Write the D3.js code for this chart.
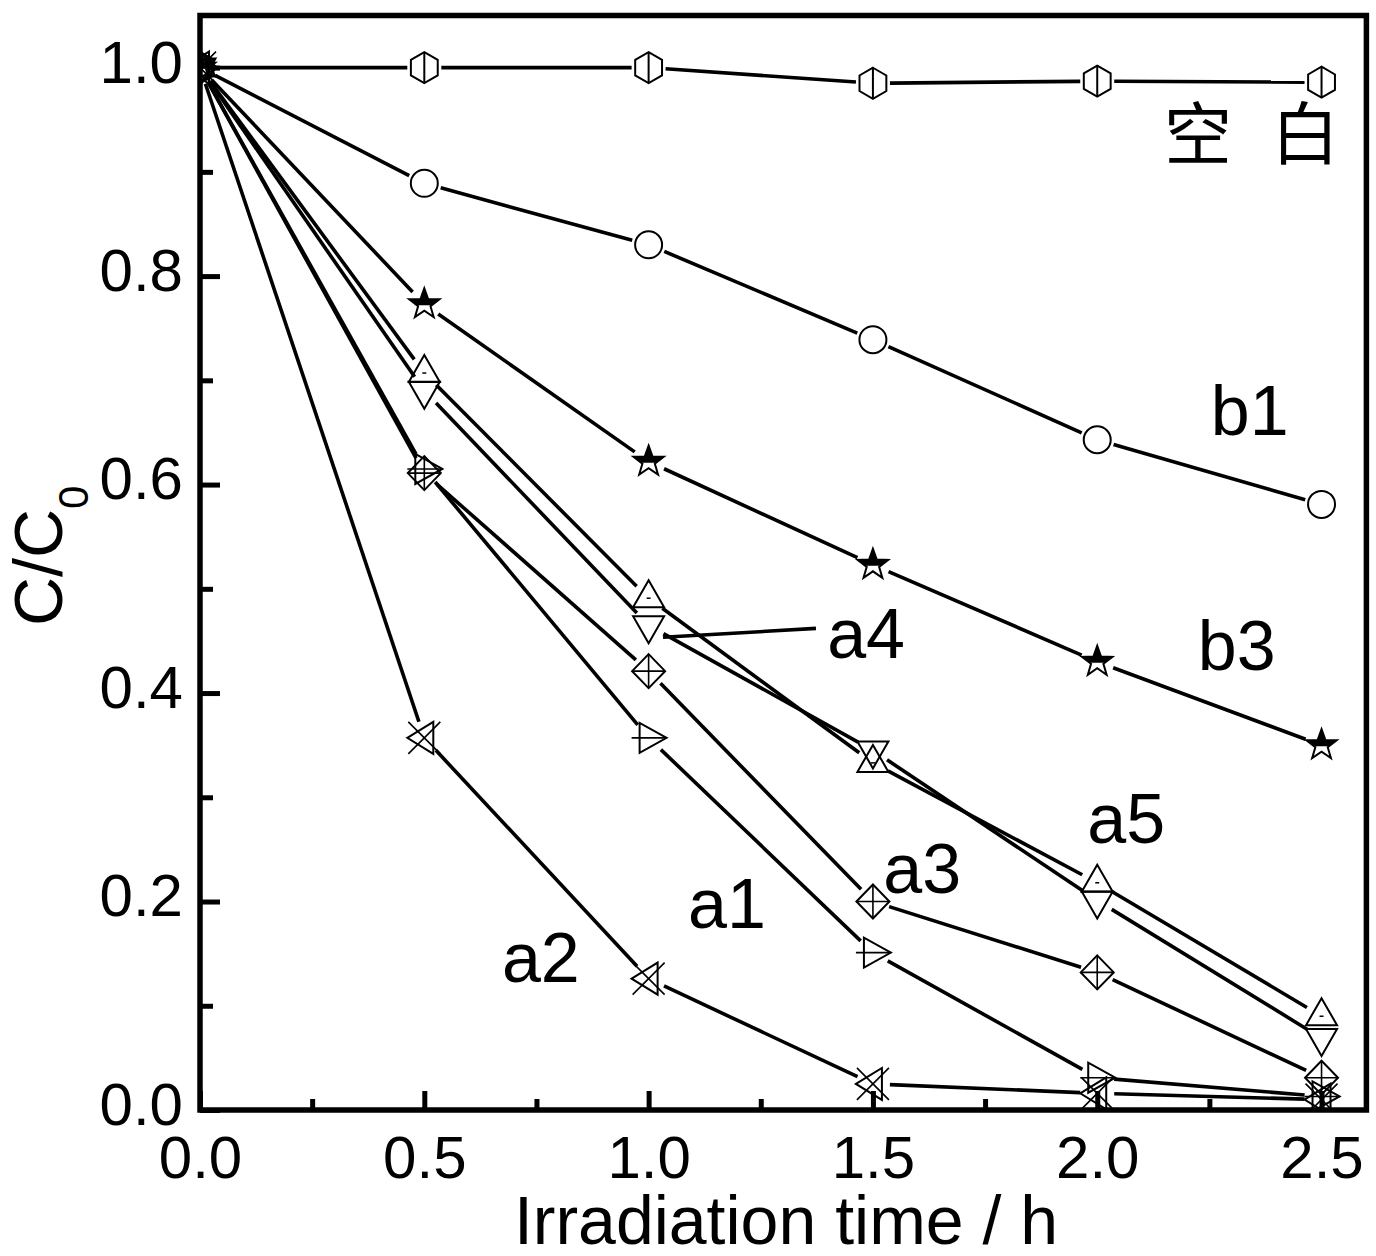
<!DOCTYPE html>
<html>
<head>
<meta charset="utf-8">
<script src="https://cdn.jsdelivr.net/npm/d3@7"></script>
<style>
body { margin: 0; background: #fff; }
text { font-family: "Liberation Sans", Arial, sans-serif; fill: #000; }
</style>
</head>
<body>
<div id="Container"></div>
<script>
// irradiation time (h)
var time = [0, 0.5, 1.0, 1.5, 2.0, 2.5];

// C/C0 for each sample
var blank = [1.0, 1.0, 1.0, 0.985, 0.987, 0.986];
var b1 = [1.0, 0.889, 0.830, 0.739, 0.643, 0.581];
var b3 = [1.0, 0.773, 0.622, 0.523, 0.430, 0.350];
var a5 = [1.0, 0.707, 0.491, 0.333, 0.218, 0.090];
var a4 = [1.0, 0.690, 0.465, 0.345, 0.201, 0.069];
var a3 = [1.0, 0.611, 0.421, 0.200, 0.132, 0.031];
var a1 = [1.0, 0.615, 0.357, 0.151, 0.031, 0.013];
var a2 = [1.0, 0.357, 0.126, 0.025, 0.016, 0.010];

var xTicks = [0, 0.5, 1.0, 1.5, 2.0, 2.5];
var xMinor = [0.25, 0.75, 1.25, 1.75, 2.25];
var yTicks = [0, 0.2, 0.4, 0.6, 0.8, 1.0];
var yMinor = [0.1, 0.3, 0.5, 0.7, 0.9];

// curve labels, placed in data units
var labelText = ['b1', 'b3', 'a5', 'a4', 'a3', 'a1', 'a2'];
var labelT = [2.253, 2.224, 1.978, 1.398, 1.523, 1.088, 0.673];
var labelC = [0.648, 0.422, 0.256, 0.434, 0.208, 0.175, 0.123];
var pointerT = [1.032, 1.373];
var pointerC = [0.4535, 0.462];

var series = [
    { vals: blank, mark: 'hex' },
    { vals: b1, mark: 'circle' },
    { vals: b3, mark: 'star' },
    { vals: a5, mark: 'up' },
    { vals: a4, mark: 'down' },
    { vals: a3, mark: 'diamond' },
    { vals: a1, mark: 'right' },
    { vals: a2, mark: 'leftx' }
];

var margin = { top: 15.5, right: 10, bottom: 146, left: 200 },
    w = 1166.4,
    h = 1094.5,
    canvas = d3.select("#Container").append('svg')
        .attr('width', 1376)
        .attr('height', 1256),
    svg = canvas.append('g')
        .attr('transform', 'translate(' + margin.left + ',' + margin.top + ')');

var x = d3.scaleLinear().domain([0, 2.6]).range([0, w]);
var y = d3.scaleLinear().domain([0, 1.05]).range([h, 0]);

var defs = canvas.append('defs');
defs.append('clipPath').attr('id', 'plotclip')
    .append('rect').attr('x', 0).attr('y', 0).attr('width', w).attr('height', h);
defs.append('clipPath').attr('id', 'tophalf')
    .append('rect').attr('x', -25).attr('y', -25).attr('width', 50).attr('height', 26);

// axes, ticks pointing inward
function styleAxis(g) {
    g.select('.domain').remove();
    g.selectAll('.tick line').attr('stroke', '#000').attr('stroke-width', 5);
}

svg.append('g')
    .attr('transform', 'translate(0,' + h + ')')
    .call(d3.axisBottom(x).tickValues(xTicks).tickSize(-19).tickPadding(25)
        .tickFormat(d3.format('.1f')))
    .call(styleAxis)
    .selectAll('text').attr('font-size', 60).attr('font-family', 'Liberation Sans, Arial');

svg.append('g')
    .attr('transform', 'translate(0,' + h + ')')
    .call(d3.axisBottom(x).tickValues(xMinor).tickSize(-11).tickFormat(''))
    .call(styleAxis);

svg.append('g')
    .call(d3.axisLeft(y).tickValues(yTicks).tickSize(-20).tickPadding(17)
        .tickFormat(d3.format('.1f')))
    .call(styleAxis)
    .selectAll('text').attr('font-size', 60).attr('dy', '0.24em')
    .attr('font-family', 'Liberation Sans, Arial');

svg.append('g')
    .call(d3.axisLeft(y).tickValues(yMinor).tickSize(-13).tickFormat(''))
    .call(styleAxis);

// lines, with a small gap around each marker
var gap = 17;
var lineG = svg.append('g');
series.forEach(function (s) {
    var pts = s.vals.map(function (v, i) { return [x(time[i]), y(v)]; });
    for (var i = 0; i < pts.length - 1; i++) {
        var p = pts[i], q = pts[i + 1];
        var dx = q[0] - p[0], dy = q[1] - p[1];
        var d = Math.sqrt(dx * dx + dy * dy);
        if (d <= 2 * gap) continue;
        var ux = dx / d, uy = dy / d;
        lineG.append('line')
            .attr('x1', p[0] + ux * gap).attr('y1', p[1] + uy * gap)
            .attr('x2', q[0] - ux * gap).attr('y2', q[1] - uy * gap)
            .attr('stroke', '#000').attr('stroke-width', 3.6);
    }
});

// markers
function drawMarker(g, type) {
    var sw = 2;
    if (type == 'hex') {
        var p = d3.range(6).map(function (k) {
            var a = (-90 + 60 * k) * Math.PI / 180;
            return [15.5 * Math.cos(a), 15.5 * Math.sin(a)];
        });
        g.append('polygon').attr('points', p.join(' '))
            .attr('fill', 'none').attr('stroke', '#000').attr('stroke-width', sw);
        g.append('line').attr('x1', 0).attr('y1', -15.5).attr('x2', 0).attr('y2', 15.5)
            .attr('stroke', '#000').attr('stroke-width', sw);
    } else if (type == 'circle') {
        g.append('circle').attr('r', 13.5)
            .attr('fill', 'none').attr('stroke', '#000').attr('stroke-width', sw);
    } else if (type == 'star') {
        var pts = d3.range(10).map(function (k) {
            var a = (-90 + 36 * k) * Math.PI / 180;
            var r = k % 2 == 0 ? 16 : 6.5;
            return [r * Math.cos(a), r * Math.sin(a)];
        });
        var dstr = 'M' + pts.join('L') + 'Z';
        g.append('path').attr('d', dstr).attr('fill', '#fff')
            .attr('stroke', '#000').attr('stroke-width', sw);
        g.append('path').attr('d', dstr).attr('fill', '#000')
            .attr('clip-path', 'url(#tophalf)');
    } else if (type == 'up') {
        g.append('path').attr('d', 'M0,-18L15.5,9L-15.5,9Z')
            .attr('fill', 'none').attr('stroke', '#000').attr('stroke-width', sw);
        g.append('line').attr('x1', -2).attr('y1', 0).attr('x2', 2).attr('y2', 0)
            .attr('stroke', '#000').attr('stroke-width', 1.5);
    } else if (type == 'down') {
        g.append('path').attr('d', 'M0,18L15.5,-9L-15.5,-9Z')
            .attr('fill', 'none').attr('stroke', '#000').attr('stroke-width', sw);
    } else if (type == 'diamond') {
        g.append('path').attr('d', 'M0,-17L16.5,0L0,17L-16.5,0Z')
            .attr('fill', 'none').attr('stroke', '#000').attr('stroke-width', sw);
        g.append('path').attr('d', 'M0,-17L0,17M-16.5,0L16.5,0')
            .attr('fill', 'none').attr('stroke', '#000').attr('stroke-width', 1.6);
    } else if (type == 'right') {
        g.append('path').attr('d', 'M18,0L-9,-15L-9,15Z')
            .attr('fill', 'none').attr('stroke', '#000').attr('stroke-width', sw);
        g.append('line').attr('x1', -17).attr('y1', 0).attr('x2', 18).attr('y2', 0)
            .attr('stroke', '#000').attr('stroke-width', 1.6);
    } else if (type == 'leftx') {
        g.append('path').attr('d', 'M-17,0L9,-16L9,16Z')
            .attr('fill', 'none').attr('stroke', '#000').attr('stroke-width', sw);
        g.append('path').attr('d', 'M-16,-16L16,16M-16,16L16,-16')
            .attr('fill', 'none').attr('stroke', '#000').attr('stroke-width', 1.6);
    }
}

var markG = svg.append('g').attr('clip-path', 'url(#plotclip)');
series.forEach(function (s) {
    markG.selectAll(null)
        .data(s.vals)
        .enter()
        .append('g')
        .attr('transform', function (d, i) { return 'translate(' + x(time[i]) + ',' + y(d) + ')'; })
        .each(function () { drawMarker(d3.select(this), s.mark); });
});

// frame
svg.append('rect')
    .attr('x', 0).attr('y', 0).attr('width', w).attr('height', h)
    .attr('fill', 'none').attr('stroke', '#000').attr('stroke-width', 5.5);

// curve labels
svg.selectAll('.lbl')
    .data(labelText)
    .enter()
    .append('text')
    .attr('class', 'lbl')
    .attr('x', function (d, i) { return x(labelT[i]); })
    .attr('y', function (d, i) { return y(labelC[i]); })
    .attr('font-size', 70)
    .text(function (d) { return d; });

svg.append('line')
    .attr('x1', x(pointerT[0])).attr('y1', y(pointerC[0]))
    .attr('x2', x(pointerT[1])).attr('y2', y(pointerC[1]))
    .attr('stroke', '#000').attr('stroke-width', 3.6);

var kong = svg.append('text')
    .attr('y', y(0.912))
    .attr('font-size', 68)
    .style('font-family', '"Noto Sans CJK SC", sans-serif');
kong.append('tspan').attr('x', x(2.149)).text('空');
kong.append('tspan').attr('x', x(2.388)).text('白');

// axis titles
canvas.append('text')
    .attr('x', 786)
    .attr('y', 1244)
    .attr('font-size', 68)
    .attr('text-anchor', 'middle')
    .text('Irradiation time / h');

var yt = canvas.append('text')
    .attr('transform', 'translate(62,626) rotate(-90)')
    .attr('font-size', 68);
yt.append('tspan').text('C/C');
yt.append('tspan').attr('font-size', 42).attr('dy', 26).text('0');
</script>
</body>
</html>
